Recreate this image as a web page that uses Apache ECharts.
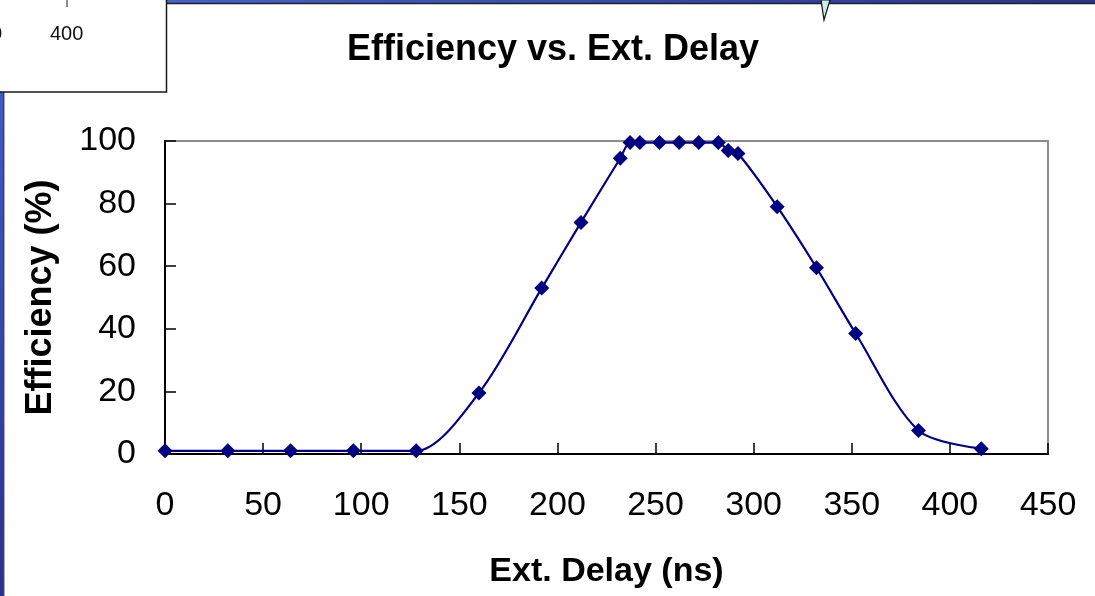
<!DOCTYPE html>
<html>
<head>
<meta charset="utf-8">
<script src="https://cdn.jsdelivr.net/npm/echarts@6/dist/echarts.min.js"></script>
<style>
  html, body { margin: 0; padding: 0; background: #ffffff; }
  #chart { width: 1095px; height: 596px; }
</style>
</head>
<body>
<div id="chart"></div>
<script>
// Measured external delay settings (ns) and the resulting efficiency (%)
const delayNs = [0, 32, 64, 96, 128, 160, 192, 212, 232, 237, 242, 252, 262, 272, 282, 287, 292, 312, 332, 352, 384, 416];
const efficiencyPct = [1, 1, 1, 1, 1, 19.5, 53, 74, 94.5, 99.5, 99.5, 99.5, 99.5, 99.5, 99.5, 97, 96, 79, 59.5, 38.5, 7.5, 1.7];

const titleText = 'Efficiency vs. Ext. Delay';
const xAxisTitle = 'Ext. Delay (ns)';
const yAxisTitle = 'Efficiency (%)';
const insetLabel = '400';

const points = delayNs.map((d, i) => [d, efficiencyPct[i]]);

const FONT = '"Liberation Sans", Arial, sans-serif';
const NAVY = '#000080';

const chart = echarts.init(document.getElementById('chart'), null, { renderer: 'canvas' });

chart.setOption({
  backgroundColor: '#ffffff',
  animation: false,
  title: {
    text: titleText,
    left: 548,
    textAlign: 'center',
    top: 27,
    textStyle: { fontFamily: FONT, fontWeight: 'bold', fontSize: 36, color: '#000000' }
  },
  grid: {
    left: 165, right: 47, top: 141, bottom: 142,
    outerBoundsMode: 'none',
    containLabel: false,
    show: true,
    borderColor: '#8c8c8c',
    borderWidth: 2,
    backgroundColor: '#ffffff'
  },
  xAxis: {
    type: 'value',
    min: 0, max: 450, interval: 50,
    name: xAxisTitle,
    nameLocation: 'middle',
    nameGap: 101,
    nameTextStyle: { fontFamily: FONT, fontWeight: 'bold', fontSize: 34, color: '#000000' },
    axisLine: { show: true, onZero: false, lineStyle: { color: '#000000', width: 2 } },
    axisTick: { show: true, inside: true, length: 11, lineStyle: { color: '#000000', width: 1.5 } },
    axisLabel: { fontFamily: FONT, fontSize: 34, color: '#000000', margin: 35 },
    splitLine: { show: false }
  },
  yAxis: {
    type: 'value',
    min: 0, max: 100, interval: 20,
    name: yAxisTitle,
    nameLocation: 'middle',
    nameGap: 106,
    nameRotate: 90,
    nameTextStyle: { fontFamily: FONT, fontWeight: 'bold', fontSize: 36, color: '#000000' },
    axisLine: { show: true, lineStyle: { color: '#000000', width: 2 } },
    axisTick: { show: true, inside: true, length: 11, lineStyle: { color: '#000000', width: 1.5 } },
    axisLabel: { fontFamily: FONT, fontSize: 34, color: '#000000', margin: 29 },
    splitLine: { show: false }
  },
  series: [{
    type: 'line',
    data: points,
    smooth: 0.3,
    symbol: 'diamond',
    symbolSize: 15,
    itemStyle: { color: NAVY },
    lineStyle: { color: NAVY, width: 2.2 },
    z: 5
  }],
  graphic: [
    // slide frame: blue band across the top and down the left edge
    {
      type: 'rect', z: 0, silent: true,
      shape: { x: 167, y: 0, width: 928, height: 3 },
      style: { fill: new echarts.graphic.LinearGradient(0, 0, 1, 0, [
        { offset: 0, color: '#4263c9' }, { offset: 1, color: '#2b3392' }]) }
    },
    {
      type: 'line', z: 0, silent: true,
      shape: { x1: 167, y1: 3.5, x2: 1095, y2: 3.5 },
      style: { stroke: '#222222', lineWidth: 1.5 }
    },
    {
      type: 'rect', z: 0, silent: true,
      shape: { x: 0, y: 92, width: 3, height: 504 },
      style: { fill: new echarts.graphic.LinearGradient(0, 0, 0, 1, [
        { offset: 0, color: '#3d5cc6' }, { offset: 1, color: '#2a3090' }]) }
    },
    {
      type: 'line', z: 0, silent: true,
      shape: { x1: 3.7, y1: 92, x2: 3.7, y2: 596 },
      style: { stroke: '#444444', lineWidth: 1.5 }
    },
    // inset box in the upper-left corner
    {
      type: 'rect', z: 1, silent: true,
      shape: { x: -2, y: -2, width: 168.5, height: 94 },
      style: { fill: '#ffffff', stroke: '#1a1a1a', lineWidth: 1.5 }
    },
    {
      type: 'line', z: 2, silent: true,
      shape: { x1: 67, y1: 0, x2: 67, y2: 7 },
      style: { stroke: '#1a1a1a', lineWidth: 1 }
    },
    {
      type: 'text', z: 2, silent: true,
      style: { x: 50, y: 24, text: insetLabel, font: '20px "Liberation Sans", Arial, sans-serif', fill: '#111111' }
    },
    {
      type: 'text', z: 2, silent: true,
      style: { x: -9, y: 24, text: '0', font: '20px "Liberation Sans", Arial, sans-serif', fill: '#111111' }
    },
    // callout pointer hanging from the top band
    {
      type: 'polygon', z: 2, silent: true,
      shape: { points: [[821, 0], [830, 0], [824, 20]] },
      style: { fill: '#c8eef2', stroke: '#111111', lineWidth: 1.2 }
    }
  ]
});
</script>
</body>
</html>
